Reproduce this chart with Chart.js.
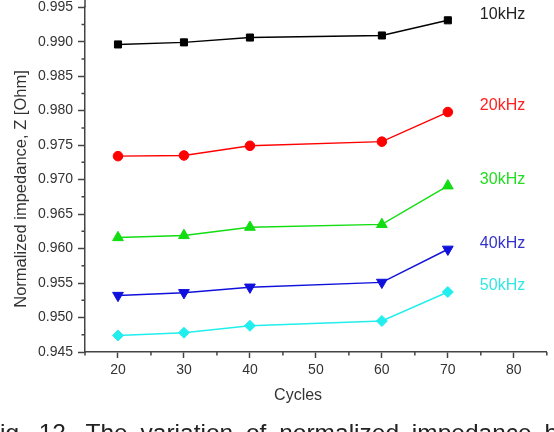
<!DOCTYPE html>
<html>
<head>
<meta charset="utf-8">
<script src="https://cdn.jsdelivr.net/npm/chart.js@4"></script>
<style>
    html, body { margin: 0; padding: 0; background: #fff; }
    #mainContentDivId { width: 554px; height: 432px; position: relative; }
</style>
</head>
<body>
<div id="mainContentDivId"></div>
<script>
const cycles = [20, 30, 40, 60, 70];
const seriesNames = ['10kHz', '20kHz', '30kHz', '40kHz', '50kHz'];
const z10 = [0.9896, 0.9899, 0.9906, 0.9909, 0.9931];
const z20 = [0.9734, 0.9735, 0.9749, 0.9755, 0.9798];
const z30 = [0.9616, 0.9619, 0.9631, 0.9635, 0.9691];
const z40 = [0.9532, 0.9536, 0.9544, 0.9551, 0.9599];
const z50 = [0.9474, 0.9478, 0.9488, 0.9495, 0.9537];
const xTickLabels = [20, 30, 40, 50, 60, 70, 80];
const yTickLabels = ['0.945', '0.950', '0.955', '0.960', '0.965', '0.970', '0.975', '0.980', '0.985', '0.990', '0.995'];

let mainContentDiv;
let chartCanvas;

const FONT = '"Liberation Sans", Arial, sans-serif';
const AXIS_COLOR = '#444';
const TEXT_COLOR = '#333';

window.addEventListener("DOMContentLoaded", init);

function isMajorX(v) {
    return xTickLabels.indexOf(Math.round(v)) >= 0;
}

// minor ticks, series labels, axis titles and the cut caption
const extrasPlugin = {
    id: 'extras',
    afterDraw(chart) {
        const ctx = chart.ctx;
        const xs = chart.scales.x;
        const ys = chart.scales.y;
        ctx.save();
        ctx.strokeStyle = AXIS_COLOR;
        ctx.lineWidth = 1.5;
        ctx.beginPath();
        // axis line runs up to the top edge
        ctx.moveTo(xs.left, ys.top);
        ctx.lineTo(xs.left, 0);
        for (let v = 15; v <= 85; v += 5) {
            if (!isMajorX(v)) {
                const px = xs.getPixelForValue(v);
                ctx.moveTo(px, ys.bottom);
                ctx.lineTo(px, ys.bottom + 3.5);
            }
        }
        for (let i = 0; i < yTickLabels.length - 1; i++) {
            const v = (parseFloat(yTickLabels[i]) + parseFloat(yTickLabels[i + 1])) / 2;
            const py = ys.getPixelForValue(v);
            ctx.moveTo(xs.left, py);
            ctx.lineTo(xs.left - 3.5, py);
        }
        ctx.stroke();

        // series labels beside the last point
        ctx.font = '16px ' + FONT;
        ctx.textAlign = 'left';
        ctx.textBaseline = 'middle';
        chart.data.datasets.forEach(ds => {
            const last = ds.data[ds.data.length - 1];
            ctx.fillStyle = ds.labelColor;
            ctx.fillText(ds.label, xs.getPixelForValue(last.x) + 32, ys.getPixelForValue(last.y) - 6);
        });

        // axis titles
        ctx.fillStyle = TEXT_COLOR;
        ctx.textAlign = 'center';
        ctx.font = '16px ' + FONT;
        ctx.fillText('Cycles', xs.getPixelForValue(47.3), 396);
        ctx.save();
        ctx.translate(21, 189);
        ctx.rotate(-Math.PI / 2);
        ctx.font = '16.5px ' + FONT;
        ctx.fillText('Normalized impedance, Z [Ohm]', 0, 0);
        ctx.restore();

        // caption, cut by the bottom edge of the picture
        ctx.font = '24.5px ' + FONT;
        ctx.textAlign = 'left';
        ctx.textBaseline = 'alphabetic';
        ctx.fillStyle = '#222';
        ctx.wordSpacing = '6px';
        ctx.fillText('Fig. 12. The variation of normalized impedance by', -15, 440.5);
        ctx.restore();
    }
};

function makeSet(name, values, color, labelColor, style, radius, rotation) {
    return {
        label: name,
        data: cycles.map((c, i) => ({ x: c, y: values[i] })),
        borderColor: color,
        backgroundColor: color,
        borderWidth: 1.4,
        pointStyle: style,
        pointRadius: radius,
        pointHoverRadius: radius,
        pointRotation: rotation || 0,
        pointBorderWidth: 1,
        labelColor: labelColor,
        tension: 0
    };
}

function init() {

    mainContentDiv = document.getElementById("mainContentDivId");
    chartCanvas = document.createElement("canvas");
    chartCanvas.setAttribute("id", "chartCanvasId");
    mainContentDiv.appendChild(chartCanvas);

    new Chart(chartCanvas, {
        type: 'line',
        data: {
            datasets: [
                makeSet(seriesNames[0], z10, '#000000', '#222222', 'rect', 5),
                makeSet(seriesNames[1], z20, '#ff0000', '#ff2020', 'circle', 4.8),
                makeSet(seriesNames[2], z30, '#11dd11', '#22dd22', 'triangle', 6.2),
                makeSet(seriesNames[3], z40, '#1010dd', '#3333cc', 'triangle', 6.2, 180),
                makeSet(seriesNames[4], z50, '#22eeee', '#33e6e6', 'rectRot', 5.5)
            ]
        },
        options: {
            responsive: true,
            maintainAspectRatio: false,
            animation: false,
            layout: { padding: { top: 3, right: 2, left: 0, bottom: 0 } },
            plugins: {
                legend: { display: false },
                tooltip: { enabled: false }
            },
            scales: {
                x: {
                    type: 'linear',
                    min: 15,
                    max: 85,
                    afterFit: s => { s.height = 80; s.paddingLeft = 0; s.paddingRight = 0; },
                    afterBuildTicks: s => { s.ticks = xTickLabels.map(v => ({ value: v })); },
                    grid: {
                        drawOnChartArea: false,
                        tickLength: 6,
                        tickColor: AXIS_COLOR,
                        tickWidth: 1.5
                    },
                    border: { color: AXIS_COLOR, width: 1.5 },
                    ticks: {
                        color: TEXT_COLOR,
                        font: { family: FONT, size: 14 },
                        padding: 4,
                        maxRotation: 0,
                        autoSkip: false,
                        callback: v => String(v)
                    }
                },
                y: {
                    type: 'linear',
                    min: 0.945,
                    max: 0.995,
                    afterFit: s => { s.width = 85; s.paddingTop = 0; s.paddingBottom = 0; },
                    afterBuildTicks: s => { s.ticks = yTickLabels.map(t => ({ value: parseFloat(t) })); },
                    grid: {
                        drawOnChartArea: false,
                        tickLength: 7,
                        tickColor: AXIS_COLOR,
                        tickWidth: 1.5
                    },
                    border: { color: AXIS_COLOR, width: 1.5 },
                    ticks: {
                        color: TEXT_COLOR,
                        font: { family: FONT, size: 14 },
                        padding: 5,
                        autoSkip: false,
                        callback: v => v.toFixed(3)
                    }
                }
            }
        },
        plugins: [extrasPlugin]
    });
}
</script>
</body>
</html>
